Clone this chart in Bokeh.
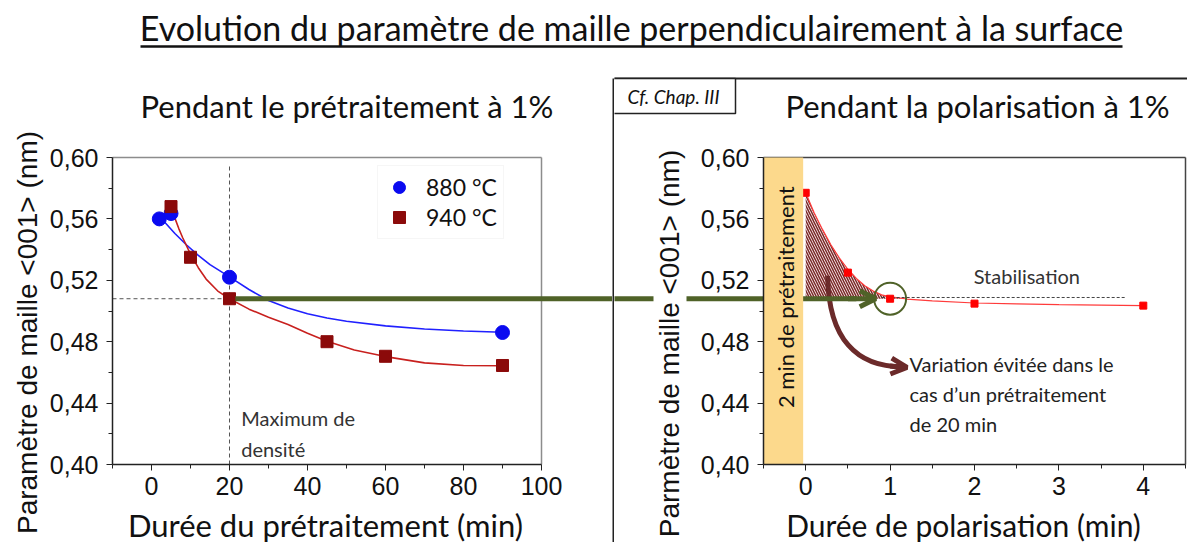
from bokeh.plotting import figure
from bokeh.layouts import column, row
from bokeh.models import (FixedTicker, CustomJSTickFormatter, Arrow, OpenHead, Legend,
                          LegendItem, Range1d, Spacer)
from bokeh.core.properties import value
from bokeh.embed import file_html
from bokeh.resources import INLINE

# ---------------- texts ----------------
MAIN_TITLE = "Evolution du paramètre de maille perpendiculairement à la surface"
LEFT_TITLE = "Pendant le prétraitement à 1%"
RIGHT_TITLE = "Pendant la polarisation à 1%"
LEFT_XLABEL = "Durée du prétraitement (min)"
RIGHT_XLABEL = "Durée de polarisation (min)"
LEFT_YLABEL = "Paramètre de maille <001> (nm)"
RIGHT_YLABEL = "Parmètre de maille <001> (nm)"
MAX_TEXT = "Maximum de\ndensité"
STAB_TEXT = "Stabilisation"
VAR_TEXT = "Variation évitée dans le\ncas  d\u2019un prétraitement\nde 20 min"
BAND_TEXT = "2 min de prétraitement"
CF_TEXT = "Cf. Chap. III"
SERIES = ["880 °C", "940 °C"]

# ---------------- ticks ----------------
Y_TICKS = [0.40, 0.44, 0.48, 0.52, 0.56, 0.60]
Y_MINOR = [0.42, 0.46, 0.50, 0.54, 0.58]
LEFT_XTICKS = [0, 20, 40, 60, 80, 100]
LEFT_XMINOR = [-10, 10, 30, 50, 70, 90]
RIGHT_XTICKS = [0, 1, 2, 3, 4]
RIGHT_XMINOR = [-0.5, 0.5, 1.5, 2.5, 3.5, 4.5]

# ---------------- left panel data ----------------
t880 = [2, 5, 20, 90]
a880 = [0.560, 0.5635, 0.522, 0.486]
t940 = [5, 10, 20, 45, 60, 90]
a940 = [0.568, 0.535, 0.508, 0.480, 0.4705, 0.4645]
# fitted curves
fit880_t = [3, 6, 9, 12, 15, 20, 25, 30, 35, 40, 45, 50, 60, 70, 80, 90]
fit880_a = [0.5590, 0.5505, 0.5430, 0.5362, 0.5302, 0.5222, 0.5140, 0.5068, 0.5020,
            0.4982, 0.4954, 0.4933, 0.4903, 0.4883, 0.4870, 0.4862]
fit940_t = [5, 6, 7, 8, 10, 12, 14, 17, 20, 25, 30, 35, 40, 45, 52, 60, 70, 80, 90]
fit940_a = [0.5680, 0.5605, 0.5537, 0.5477, 0.5370, 0.5282, 0.5208, 0.5130, 0.5080,
            0.5012, 0.4960, 0.4912, 0.4855, 0.4803, 0.4746, 0.4703, 0.4662, 0.4645, 0.4643]
DENSITY_MAX_T = 20          # vertical dashed line
REF_LEVEL = 0.508           # horizontal reference (green line)

# ---------------- right panel data ----------------
tp = [0, 0.5, 1, 2, 4]
ap = [0.577, 0.525, 0.508, 0.5048, 0.5035]
fitp_t = [0, 0.1, 0.2, 0.3, 0.4, 0.5, 0.6, 0.7, 0.8, 0.9, 1.0, 1.1, 1.2, 1.5, 2.0,
          2.5, 3.0, 3.5, 4.0]
fitp_a = [0.5770, 0.5640, 0.5530, 0.5430, 0.5345, 0.5272, 0.5212, 0.5165, 0.5130,
          0.5105, 0.5092, 0.5085, 0.5078, 0.5066, 0.5052, 0.5046, 0.5041, 0.5038, 0.5035]
HATCH_END = 1.2
BAND_END = -0.03
STAB_LINE_X = [0.9, 3.8]
STAB_LEVEL = 0.5088

GREEN = "#4f6228"
BROWN = "#6b2a2a"
BLUE = "#0a0af0"
DARKRED = "#8b0a0a"
RED_LINE = "#c8201e"

# ---------------- layout geometry (picture pixels) ----------------
TOTAL_W = 1187
TITLE_H = 56
ROW_H = 486
ROW_TOP, ROW_BOTTOM = TITLE_H, TITLE_H + ROW_H
Y_TOP_PX, Y_BOT_PX = 157, 464            # rows of y=0.60 and y=0.40
PXY = (Y_BOT_PX - Y_TOP_PX) / 0.2

P1_W = 612
P1_AX_LEFT = 112                          # column of x=-10
P1_PXX = 3.9
VLINE_W = 2
P2_LEFT = P1_W + VLINE_W                  # first column of right canvas
P2_W = TOTAL_W - P2_LEFT
P2_AX_LEFT, P2_AX_RIGHT = 763, 1185       # columns of x=-0.5 and x=4.5
P2_PXX = (P2_AX_RIGHT - P2_AX_LEFT) / 5.0


def py(row_px):
    return 0.60 + (Y_TOP_PX - row_px) / PXY


def px1(col_px):
    return -10 + (col_px - P1_AX_LEFT) / P1_PXX


def px2(col_px):
    return -0.5 + (col_px - P2_AX_LEFT) / P2_PXX


Y0, Y1 = py(ROW_BOTTOM), py(ROW_TOP)


def comma_fmt():
    return CustomJSTickFormatter(code="return tick.toFixed(2).replace('.', ',');")


def make_panel(width, xr, xticks, xminor, xbounds, yloc):
    p = figure(width=width, height=ROW_H, x_range=Range1d(*xr), y_range=Range1d(Y0, Y1),
               toolbar_location=None, output_backend="svg", min_border=0)
    if "frame_align" in p.properties():
        p.frame_align = False
    p.grid.visible = False
    p.background_fill_color = "white"
    p.border_fill_color = "white"
    p.outline_line_color = None
    p.xaxis.ticker = FixedTicker(ticks=xticks, minor_ticks=xminor)
    p.yaxis.ticker = FixedTicker(ticks=Y_TICKS, minor_ticks=Y_MINOR)
    p.yaxis.formatter = comma_fmt()
    p.xaxis.bounds = xbounds
    p.yaxis.bounds = (0.40, 0.60)
    p.xaxis.fixed_location = 0.40
    p.yaxis.fixed_location = yloc
    for ax in p.axis:
        ax.axis_line_color = "#222"
        ax.axis_line_width = 1.5
        ax.major_tick_line_color = "#222"
        ax.minor_tick_line_color = "#222"
        ax.major_tick_out = 6
        ax.major_tick_in = 0
        ax.minor_tick_out = 4
        ax.minor_tick_in = 0
        ax.major_label_text_font = "Liberation Sans"
        ax.major_label_text_font_size = "25px"
        ax.major_label_text_color = "#111"
    p.xaxis.major_label_standoff = 6
    p.yaxis.major_label_standoff = 8
    return p


def titles(p, fx, title, title_x, title_align, title_size, xlabel, xlabel_x, xlabel_size,
           ylabel, ylabel_x, ylabel_y):
    p.text(x=[fx(title_x)], y=[py(105)], text=[title], text_font=value("Lato"),
           text_font_size=title_size, text_align=title_align, text_baseline="middle",
           text_color="#111")
    p.text(x=[fx(xlabel_x)], y=[py(524)], text=[xlabel], text_font=value("Lato"),
           text_font_size=xlabel_size, text_align="center", text_baseline="middle",
           text_color="#111")
    p.text(x=[fx(ylabel_x)], y=[py(ylabel_y)], text=[ylabel], angle=[1.5707963],
           text_font=value("Liberation Sans"), text_font_size="28px", text_align="center",
           text_baseline="middle", text_color="#111")


# ================= main title =================
pt = figure(width=TOTAL_W, height=TITLE_H, x_range=Range1d(0, 1), y_range=Range1d(0, 1),
            x_axis_type=None, y_axis_type=None, toolbar_location=None,
            output_backend="svg", min_border=0)
pt.grid.visible = False
pt.outline_line_color = None
pt.text(x=[631 / TOTAL_W], y=[1 - 27 / TITLE_H], text=[MAIN_TITLE], text_font=value("Lato"),
        text_font_size="34px", text_align="center", text_baseline="middle", text_color="#111")
pt.segment(x0=[140 / TOTAL_W], y0=[1 - 46 / TITLE_H], x1=[1122 / TOTAL_W],
           y1=[1 - 46 / TITLE_H], line_color="#111", line_width=2.5)

# ================= left panel =================
p1 = make_panel(P1_W, (px1(0), px1(P1_W)), LEFT_XTICKS, LEFT_XMINOR, (-10, 100), -10)
titles(p1, px1, LEFT_TITLE, 140, "left", "31px", LEFT_XLABEL, 325, "31px",
       LEFT_YLABEL, 27, 332)

# gray frame borders (top, right)
p1.segment(x0=[-10, 100], y0=[0.60, 0.40], x1=[100, 100], y1=[0.60, 0.60],
           line_color="#8c8c8c", line_width=1.5)
p1.segment(x0=[DENSITY_MAX_T], y0=[0.40], x1=[DENSITY_MAX_T], y1=[0.595],
           line_color="#555", line_dash="4 3", line_width=1)
p1.segment(x0=[-10], y0=[REF_LEVEL], x1=[DENSITY_MAX_T], y1=[REF_LEVEL],
           line_color="#555", line_dash="4 3", line_width=1)
p1.line(fit880_t, fit880_a, line_color="#2020ff", line_width=1.6)
p1.line(fit940_t, fit940_a, line_color=RED_LINE, line_width=1.6)
r880 = p1.scatter(t880, a880, marker="circle", size=14, fill_color=BLUE, line_color=BLUE)
r940 = p1.scatter(t940, a940, marker="square", size=12, fill_color=DARKRED, line_color=DARKRED)
p1.text(x=[23.0], y=[0.438], text=[MAX_TEXT], text_font=value("Lato"), text_font_size="20px",
        text_align="left", text_baseline="top", text_color="#333", text_line_height=1.3)
# green reference line, leaving through the right side of the canvas
p1.segment(x0=[21.5], y0=[REF_LEVEL], x1=[px1(P1_W + 20)], y1=[REF_LEVEL],
           line_color=GREEN, line_width=5)

legend = Legend(items=[LegendItem(label=SERIES[0], renderers=[r880]),
                       LegendItem(label=SERIES[1], renderers=[r940])],
                location=(377, ROW_BOTTOM - 239), label_text_font="Lato",
                label_text_font_size="23px", label_text_color="#111", glyph_width=30,
                glyph_height=30, label_standoff=12, spacing=0, padding=6, margin=0,
                border_line_color="#eeeeee", background_fill_alpha=1)
p1.add_layout(legend)

# ================= separator (panel border) =================
VLINE_TOP = 78
vline = figure(width=VLINE_W, height=ROW_BOTTOM - VLINE_TOP, x_axis_type=None,
               y_axis_type=None, toolbar_location=None, output_backend="svg", min_border=0,
               background_fill_color="#222", border_fill_color="#222")
vline.outline_line_color = None
vline.grid.visible = False

# ================= right panel =================
p2 = make_panel(P2_W, (px2(P2_LEFT), px2(TOTAL_W)), RIGHT_XTICKS, RIGHT_XMINOR,
                (-0.5, 4.5), -0.5)

# panel top border and "Cf. Chap. III" box
p2.segment(x0=[px2(P2_LEFT - 5)], y0=[py(78)], x1=[px2(TOTAL_W + 5)], y1=[py(78)],
           line_color="#222", line_width=2)
p2.quad(left=[px2(P2_LEFT - 5)], right=[px2(735)], top=[py(78)], bottom=[py(113)],
        fill_color="white", line_color="#222", line_width=1.5)
p2.text(x=[px2(673)], y=[py(95.5)], text=[CF_TEXT], text_font=value("Lato"),
        text_font_style="italic", text_font_size="19px", text_align="center",
        text_baseline="middle", text_color="#111")
# frame borders (top, right)
p2.segment(x0=[-0.5, 4.5], y0=[0.60, 0.40], x1=[4.5, 4.5], y1=[0.60, 0.60],
           line_color="#444", line_width=1.5)

hx = [t for t in fitp_t if t <= HATCH_END]
hy = [a for t, a in zip(fitp_t, fitp_a) if t <= HATCH_END]
p2.varea(x=hx, y1=hy, y2=[REF_LEVEL] * len(hx), fill_color="#f6dede", fill_alpha=0.5,
         hatch_pattern="\\", hatch_color="#7a2a2a", hatch_scale=5, hatch_weight=1.5)
p2.line(fitp_t, fitp_a, line_color="#ff3b3b", line_width=1.2)
p2.segment(x0=[STAB_LINE_X[0]], y0=[STAB_LEVEL], x1=[STAB_LINE_X[1]], y1=[STAB_LEVEL],
           line_color="#444", line_dash="3 2", line_width=1)
p2.scatter(tp, ap, marker="square", size=7, fill_color="#ff0000", line_color="#ff0000")
p2.scatter(x=[1.0], y=[REF_LEVEL], marker="circle", size=32, fill_alpha=0,
           line_color=GREEN, line_width=2)
p2.text(x=[2.62], y=[0.523], text=[STAB_TEXT], text_font=value("Lato"), text_font_size="20px",
        text_align="center", text_baseline="middle", text_color="#333")
p2.text(x=[1.23], y=[0.4735], text=[VAR_TEXT], text_font=value("Lato"), text_font_size="20px",
        text_align="left", text_baseline="top", text_color="#222", text_line_height=1.25)
# curved brown arrow
p2.bezier(x0=[0.26], y0=[0.523], x1=[1.17], y1=[0.4636], cx0=[0.27], cy0=[0.482],
          cx1=[0.6], cy1=[0.463], line_color=BROWN, line_width=5)
p2.add_layout(Arrow(x_start=1.0, y_start=0.4642, x_end=1.2, y_end=0.4632,
                    end=OpenHead(size=16, line_width=5, line_color=BROWN),
                    line_color=BROWN, line_width=5))

# green line coming from the left panel (interrupted behind the y-axis title)
GAP = (px2(653), px2(686))
p2.segment(x0=[px2(P2_LEFT - 20), GAP[1]], y0=[REF_LEVEL, REF_LEVEL], x1=[GAP[0], 0.6],
           y1=[REF_LEVEL, REF_LEVEL], line_color=GREEN, line_width=5)
# yellow band over the green line
p2.quad(left=[-0.5], right=[BAND_END], bottom=[0.40], top=[0.60],
        fill_color="#fcd98c", line_alpha=0)
p2.text(x=[-0.245], y=[0.509], text=[BAND_TEXT], angle=[1.5707963], text_font=value("Lato"),
        text_font_size="22px", text_align="center", text_baseline="middle", text_color="#111")
p2.add_layout(Arrow(x_start=0.5, y_start=REF_LEVEL, x_end=0.83, y_end=REF_LEVEL,
                    end=OpenHead(size=16, line_width=5, line_color=GREEN),
                    line_color=GREEN, line_width=5))
titles(p2, px2, RIGHT_TITLE, 977, "center", "31px", RIGHT_XLABEL, 963, "30px",
       RIGHT_YLABEL, 669, 343)

layout = column(pt, row(p1, column(Spacer(width=VLINE_W, height=VLINE_TOP - ROW_TOP), vline),
                        p2))
open("out.html", "w").write(file_html(layout, INLINE))
